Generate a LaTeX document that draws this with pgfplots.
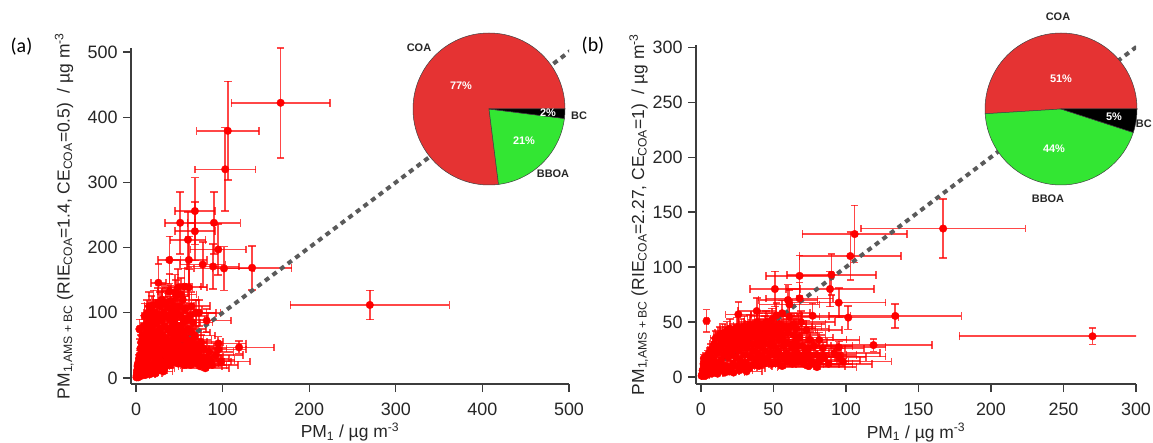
\documentclass[border=0pt]{standalone}
\usepackage{fontspec}
\setmainfont{Liberation Sans}
\newfontfamily\calibri{Carlito}
\usepackage{pgfplots}
\usepackage{pgfplotstable}
\pgfplotsset{compat=1.18}

\definecolor{pieRed}{RGB}{229,51,51}
\definecolor{pieGreen}{RGB}{51,230,51}
\definecolor{axgray}{RGB}{60,60,60}
\definecolor{lineGray}{RGB}{90,90,90}

% x = PM1 ; ya = PM1,AMS+BC (RIE=1.4, CE=0.5) ; yb = PM1,AMS+BC (RIE=2.27, CE=1)
\pgfplotstableread{
x ya yb
0.5 1 1
0.8 4 2
1 2 3
1.2 10 6
1.5 8 5
1.8 18 12
2 15 10
2 20 17
2.5 1 1
3 5 3
3 25 12
3.5 30 18
3.9 75 51
4 12 8
4 35 15
4.5 3 2
5 18 9
5 45 20
5.5 6 4
6 8 4
6 28 14
6 55 22
6.5 15 10
7 40 18
7 65 25
7.5 4 3
8 15 7
8 22 12
8 50 24
9 35 16
9 80 30
9.5 8 5
10 10 6
10 60 26
10 95 35
11 25 12
11 45 22
11.5 5 3
12 70 28
12 18 10
13 100 38
13 55 25
13.5 10 6
14 30 15
14 85 33
15 12 7
15 65 30
15 110 40
16 40 20
16 75 32
16.5 6 4
17 20 10
17 95 38
18 50 24
18 105 42
19 35 18
19 80 34
19.5 9 5
20 15 8
20 60 28
20 112 44
21 45 22
21 90 36
22 25 12
22 70 32
22.5 7 4
23 100 40
23 55 26
24 35 18
24 85 36
25 20 10
25 115 45
25 65 30
25.8 146 57
26 45 24
26.5 12 6
27 95 40
27 30 15
28 75 34
28 110 44
29 55 28
29 18 9
30 88 38
30 40 20
30 120 46
31 65 32
31 25 13
31.5 10 5
32 100 42
32 50 26
33 80 36
33 15 8
34 115 47
34 35 18
35 60 30
35 95 42
36 45 24
36 22 11
37 75 36
37 108 46
38 30 16
38 55 30
38.5 181 60
38.5 133 50
39 90 40
39 40 22
40 70 34
40 118 48
40 20 10
41 50 28
41 100 44
42 35 18
42 80 38
43 60 32
43 25 12
44 110 46
44 45 24
45 90 42
45 70 36
45 132 50
46 30 16
46 125 48
47 55 30
47 100 44
48 40 22
48 80 40
48.8 139 52
49 65 34
49 22 12
50 50 28
50 110 46
51 238 80
51 35 20
52 75 38
52 95 44
52 128 56
53 45 24
53 28 14
54 60 34
54 120 48
55 38 20
55 85 40
56 20 10
56 70 36
56 140 58
57 50 28
57 105 46
58 30 16
58 60 32
59 90 44
59 42 22
60 212 70
60 25 14
60 75 40
61 181 66
61 139 55
61 55 30
62 35 18
62 95 46
63 45 26
63 20 12
64 70 38
64 110 48
65 30 16
65 58 32
66 40 22
66 85 44
67 25 14
67 48 28
68 256 92
68 225 71.5
68 65 36
69 35 18
69 100 50
70 28 16
70 50 28
71 22 12
72 40 24
72.7 100 42.7
73 30 18
74 18 10
74 46 26
75 55 34
75 32 20
76 25 14
77 174 55.7
78 45 28
78 20 12
80 30 20
80 15 9
81.6 88 33.6
82 25 15
84 40 26
85 28 18
88 20 12
89 171 80
90 238 93
92 35 22
95 53 27
95 44 18.5
95 197 67.6
98 25 14
101.6 168 54
103 320 110
106 379 130
119 47 29
134 169 55.5
167 422 135
270 112 37
}\pmdata

% pie chart shares (percent): COA, BBOA, BC
\def\coaA{77}\def\bboaA{21}\def\bcA{2}
\def\coaB{51}\def\bboaB{44}\def\bcB{5}

\newcommand\labfont{\fontsize{17.5}{20}\selectfont}

\pgfplotsset{
  scatterax/.style={
    scale only axis,
    axis x line*=bottom, axis y line*=left,
    axis line style={axgray, line width=1.2bp},
    every tick/.style={axgray, line width=1.2bp},
    major tick length=8bp,
    tick align=outside,
    tick label style={font=\fontsize{18}{20}\selectfont, text=black!85},
    xticklabel style={yshift=-7bp},
    yticklabel style={xshift=-2bp},
    /pgf/number format/assume math mode=true,
  },
  errpts/.style={only marks, mark=*, mark size=3.8bp,
    mark options={red, fill=red, draw=red, opacity=1},
    error bars/.cd, x dir=both, x fixed relative=0.34, y dir=both, y fixed relative=0.2,
    error bar style={red, opacity=0.72, line width=1.6bp},
    error mark options={red, opacity=0.72, line width=1.6bp, mark size=3.8bp, rotate=90}},
  pieax/.style={scale only axis, width=152bp, height=152bp,
    xmin=-1, xmax=1, ymin=-1, ymax=1, hide axis, clip=false, anchor=center},
}

\newcommand\pieslice[3]{%
  \fill[#3, draw=black!75, line width=0.5bp] (axis cs:0,0) -- (axis cs:{cos(#1)},{sin(#1)})
    arc[start angle=#1, end angle=#2, radius=76bp] -- cycle;}

\begin{document}
\begin{tikzpicture}
\useasboundingbox (0,0) rectangle (1153bp,443bp);

% ---------------- panel (a)
\begin{axis}[scatterax,
  at={(131bp,59bp)}, anchor=south west,
  width=438bp, height=336bp,
  xmin=-5.8, xmax=500, ymin=-9.2, ymax=506,
  xtick={0,100,...,500}, ytick={0,100,...,500},
  every axis x label/.style={at={(axis description cs:0.5,-0.1607)}, anchor=base, font=\labfont, text=black!85},
  every axis y label/.style={at={(axis description cs:-0.1404,0.5)}, rotate=90, anchor=base, font=\labfont, text=black!85},
  xlabel={PM\textsubscript{1} / µg m\textsuperscript{-3}},
  ylabel={PM\textsubscript{1,AMS + BC} (RIE\textsubscript{COA}=1.4, CE\textsubscript{COA}=0.5)~~/ µg m\textsuperscript{-3}},
]
\addplot[errpts] table[x=x, y=ya] {\pmdata};
\addplot[lineGray, line width=4bp, dash pattern=on 5bp off 4.5bp] coordinates {(0,0) (520,520)};
\end{axis}

\begin{axis}[pieax, at={(489bp,334bp)}]
\pgfmathsetmacro\aone{3.6*\coaA}
\pgfmathsetmacro\atwo{\aone+3.6*\bboaA}
\pieslice{0}{\aone}{pieRed}
\pieslice{\aone}{\atwo}{pieGreen}
\pieslice{\atwo}{360}{black}
\begin{scope}[every node/.style={font=\fontsize{11}{12}\selectfont\bfseries}]
\node[black!85] at ([shift={(-70bp,61bp)}]axis cs:0,0) {COA};
\node[white] at ([shift={(-28bp,23bp)}]axis cs:0,0) {77\%};
\node[white] at ([shift={(59bp,-4bp)}]axis cs:0,0) {2\%};
\node[black!85] at ([shift={(90bp,-7bp)}]axis cs:0,0) {BC};
\node[white] at ([shift={(35bp,-32bp)}]axis cs:0,0) {21\%};
\node[black!85] at ([shift={(64bp,-65bp)}]axis cs:0,0) {BBOA};
\end{scope}
\end{axis}

% ---------------- panel (b)
\begin{axis}[scatterax,
  at={(696bp,59bp)}, anchor=south west,
  width=440bp, height=339bp,
  xmin=-3.4, xmax=300, ymin=-6.4, ymax=302,
  xtick={0,50,...,300}, ytick={0,50,...,300},
  every axis x label/.style={at={(axis description cs:0.5,-0.1593)}, anchor=base, font=\labfont, text=black!85},
  every axis y label/.style={at={(axis description cs:-0.118,0.5)}, rotate=90, anchor=base, font=\labfont, text=black!85},
  xlabel={PM\textsubscript{1} / µg m\textsuperscript{-3}},
  ylabel={PM\textsubscript{1,AMS + BC} (RIE\textsubscript{COA}=2.27, CE\textsubscript{COA}=1)~~/ µg m\textsuperscript{-3}},
]
\addplot[errpts] table[x=x, y=yb] {\pmdata};
\addplot[lineGray, line width=4bp, dash pattern=on 5bp off 4.5bp] coordinates {(0,0) (320,320)};
\end{axis}

\begin{axis}[pieax, at={(1061bp,334bp)}]
\pgfmathsetmacro\aone{3.6*\coaB}
\pgfmathsetmacro\atwo{\aone+3.6*\bboaB}
\pieslice{0}{\aone}{pieRed}
\pieslice{\aone}{\atwo}{pieGreen}
\pieslice{\atwo}{360}{black}
\begin{scope}[every node/.style={font=\fontsize{11}{12}\selectfont\bfseries}]
\node[black!85] at ([shift={(-3bp,92bp)}]axis cs:0,0) {COA};
\node[white] at ([shift={(0bp,30bp)}]axis cs:0,0) {51\%};
\node[white] at ([shift={(53bp,-8bp)}]axis cs:0,0) {5\%};
\node[black!85, anchor=east, inner sep=0.5bp] at ([shift={(91.5bp,-15bp)}]axis cs:0,0) {BC};
\node[white] at ([shift={(-7bp,-40bp)}]axis cs:0,0) {44\%};
\node[black!85] at ([shift={(-13bp,-90bp)}]axis cs:0,0) {BBOA};
\end{scope}
\end{axis}

\node[font=\calibri\fontsize{20}{22}\selectfont] at (21.5bp,396bp) {(a)};
\node[font=\calibri\fontsize{20}{22}\selectfont] at (593bp,397bp) {(b)};
\end{tikzpicture}
\end{document}
